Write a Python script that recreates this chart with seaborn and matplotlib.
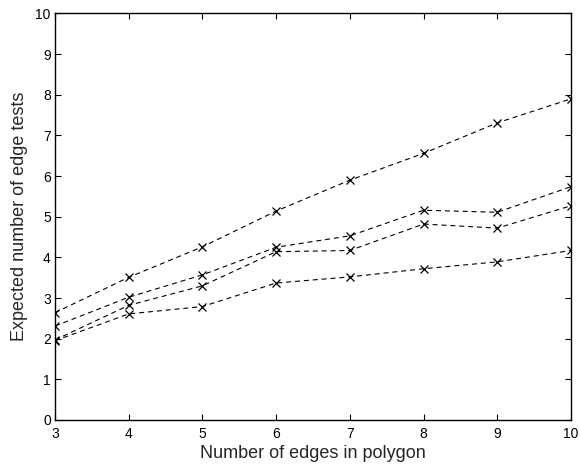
import pandas as pd
import matplotlib
matplotlib.use("Agg")
import matplotlib.pyplot as plt
import seaborn as sns

# number of edges in polygon
edges = [3, 4, 5, 6, 7, 8, 9, 10]

# expected number of edge tests, one list per curve (top to bottom)
curve_a = [2.64, 3.51, 4.26, 5.14, 5.90, 6.56, 7.31, 7.90]
curve_b = [2.31, 3.02, 3.57, 4.25, 4.53, 5.16, 5.11, 5.74]
curve_c = [1.97, 2.82, 3.30, 4.14, 4.17, 4.82, 4.72, 5.27]
curve_d = [1.95, 2.61, 2.79, 3.37, 3.52, 3.72, 3.89, 4.17]

curves = {"a": curve_a, "b": curve_b, "c": curve_c, "d": curve_d}
df = pd.concat(
    [pd.DataFrame({"edges": edges, "tests": v, "curve": k}) for k, v in curves.items()],
    ignore_index=True,
)

sns.set_style("ticks")
plt.rcParams["font.family"] = ["Liberation Sans", "DejaVu Sans"]

fig = plt.figure(figsize=(5.8, 4.68), dpi=100)
ax = fig.add_axes([0.0948, 0.1026, 0.8897, 0.8686])

sns.lineplot(
    data=df, x="edges", y="tests", units="curve", estimator=None,
    color="black", linestyle="--", linewidth=0.8,
    marker="x", markersize=6, markeredgewidth=0.9, markeredgecolor="black",
    dashes=False, legend=False, ax=ax,
)
for line in ax.lines:
    line.set_dashes([4.5, 3.5])

ax.set_xlim(3, 10)
ax.set_ylim(0, 10)
ax.set_xticks(range(3, 11))
ax.set_yticks(range(0, 11))
ax.tick_params(direction="in", top=True, right=True, length=4, width=0.8,
               labelsize=10, colors="black")
ax.tick_params(axis="x", pad=5)
ax.tick_params(axis="y", pad=3)
for s in ax.spines.values():
    s.set_visible(True)
    s.set_linewidth(1.0)
    s.set_color("black")

ax.set_xlabel("Number of edges in polygon", fontsize=13, labelpad=3)
ax.set_ylabel("Expected number of edge tests", fontsize=13, labelpad=5)

fig.savefig("out.png", dpi=100)
